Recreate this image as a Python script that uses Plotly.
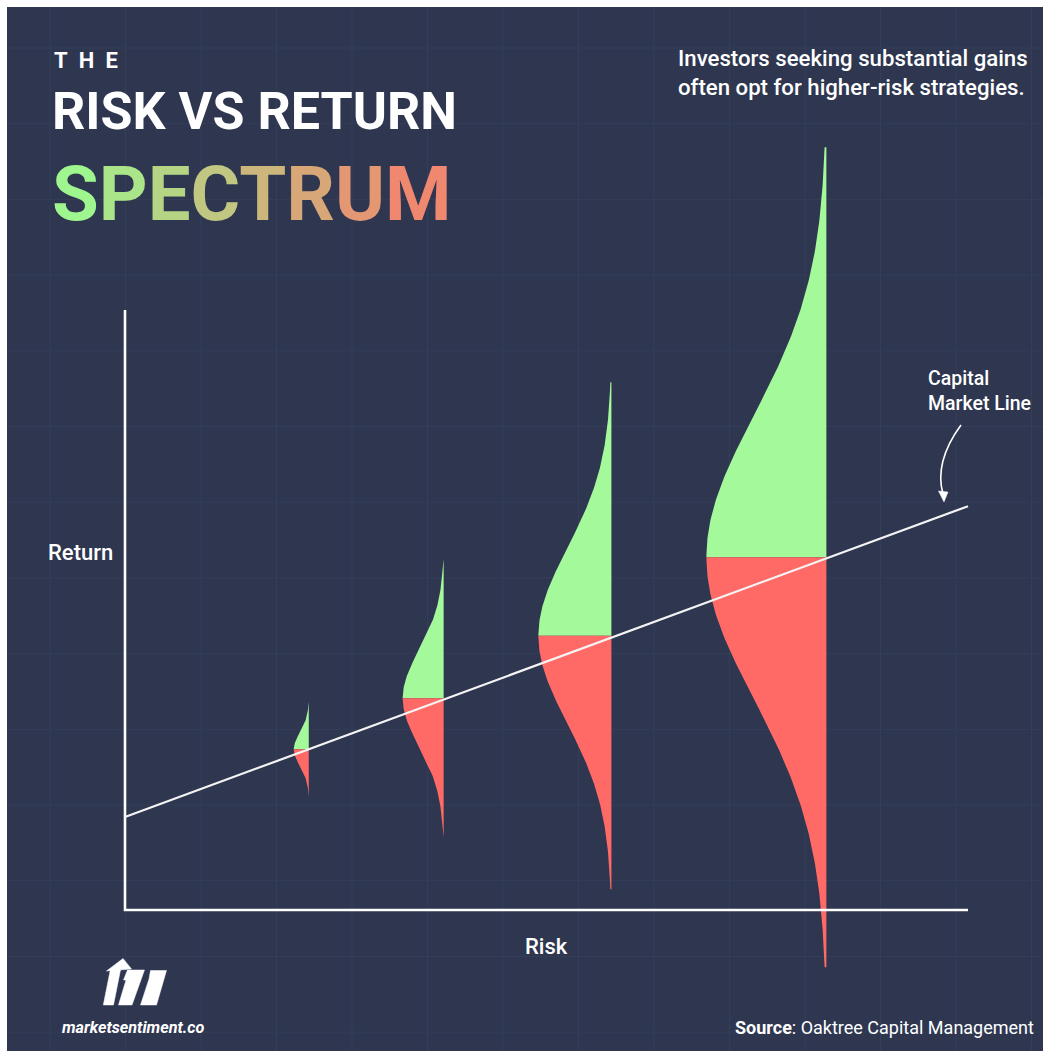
import numpy as np
import plotly.graph_objects as go

W, H = 1043, 1051

# ---------------- data (risk on x, return on y, in drawn-axis units) ----------------
risk_levels = [2.18, 3.78, 5.77, 8.32]        # position of each strategy on the risk axis
mean_returns = [2.68, 3.53, 4.57, 5.88]       # expected return (split green / red)
return_spread = [0.273, 0.80, 1.457, 2.356]   # spread of the return distribution
curve_widths = [0.178, 0.486, 0.866, 1.423]   # peak width of each half-distribution
cml_risk = [0, 10]                            # capital market line end points
cml_return = [1.55, 6.73]
axis_x_max = 10
axis_y_max = 10

title_small = "THE"
title_main = "RISK VS RETURN"
title_color_word = "SPECTRUM"
subtitle_lines = ["Investors seeking substantial gains", "often opt for higher-risk strategies."]
x_label = "Risk"
y_label = "Return"
cml_label = ["Capital", "Market Line"]
brand = "marketsentiment.co"
source_text = "Oaktree Capital Management"

# ---------------- styling ----------------
GREEN = "#A4F99B"
RED = "#FF6A66"
BG = "#2E3650"
GRID = "#353E58"
WHITE = "#FFFFFF"
FONT = "Roboto, Inter, sans-serif"

X0_PX, Y0_PX = 125, 910
XU, YU = 84.3, 60.0
x_range = [-X0_PX / XU, (W - X0_PX) / XU]
y_range = [-(H - Y0_PX) / YU, Y0_PX / YU]


def px(x):
    return x / W


def py(y):
    return 1 - y / H


fig = go.Figure()

# half-distributions
TAIL = 2.9
z = np.linspace(0, TAIL, 160)
for r, m, s, w in zip(risk_levels, mean_returns, return_spread, curve_widths):
    dens = np.exp(-0.5 * z ** 2)
    xs = r - w * dens
    gy = m + z * s
    fig.add_trace(go.Scatter(
        x=np.concatenate([[r], xs, [r]]), y=np.concatenate([[m], gy, [gy[-1]]]),
        mode="lines", fill="toself", fillcolor=GREEN, line=dict(width=0, color=GREEN),
        hoverinfo="skip", showlegend=False))
    ry = m - z * s
    fig.add_trace(go.Scatter(
        x=np.concatenate([[r], xs, [r]]), y=np.concatenate([[m], ry, [ry[-1]]]),
        mode="lines", fill="toself", fillcolor=RED, line=dict(width=0, color=RED),
        hoverinfo="skip", showlegend=False))

# axes
fig.add_trace(go.Scatter(x=[0, 0, axis_x_max], y=[axis_y_max, 0, 0], mode="lines",
                         line=dict(color=WHITE, width=2.6), hoverinfo="skip", showlegend=False))
# capital market line
fig.add_trace(go.Scatter(x=cml_risk, y=cml_return, mode="lines",
                         line=dict(color="#F4F4F4", width=2.2), hoverinfo="skip", showlegend=False))

shapes = []
shapes.append(dict(type="rect", xref="paper", yref="paper", x0=px(7), x1=px(W), y0=py(H), y1=py(7),
                   fillcolor=BG, line=dict(width=0), layer="below"))
gx = 50.0
while gx < W:
    shapes.append(dict(type="line", xref="paper", yref="paper", x0=px(gx), x1=px(gx), y0=py(H), y1=py(7),
                       line=dict(color=GRID, width=1), layer="below"))
    gx += 75.5
gy_ = 48.0
while gy_ < H:
    shapes.append(dict(type="line", xref="paper", yref="paper", x0=px(7), x1=px(W), y0=py(gy_), y1=py(gy_),
                       line=dict(color=GRID, width=1), layer="below"))
    gy_ += 75.7


def path(points, close=True):
    s = "M " + " L ".join(f"{px(a):.5f},{py(b):.5f}" for a, b in points)
    return s + (" Z" if close else "")


# curved arrow for CML label
shapes.append(dict(type="path", xref="paper", yref="paper",
                   path=f"M {px(961):.5f},{py(425):.5f} Q {px(934):.5f},{py(462):.5f} {px(943):.5f},{py(494):.5f}",
                   line=dict(color=WHITE, width=1.6)))
shapes.append(dict(type="path", xref="paper", yref="paper",
                   path=path([(938.5, 491), (948, 492), (944, 502)]),
                   fillcolor=WHITE, line=dict(color=WHITE, width=0.5)))

# logo
logo_parts = [
    [(103.3, 1005), (113.5, 1005), (120.5, 970), (110.3, 970)],
    [(106.5, 971), (123.0, 958.5), (131.5, 969)],
    [(127.5, 970), (144.5, 970), (132, 1005), (118.5, 1005), (126.0, 980), (123.5, 980)],
    [(150.5, 970.5), (166.5, 970.5), (156.5, 1005), (140.5, 1005), (149, 979)],
]
for pts in logo_parts:
    shapes.append(dict(type="path", xref="paper", yref="paper", path=path(pts),
                       fillcolor=WHITE, line=dict(color=WHITE, width=0.5)))

# gradient title word
c0 = np.array([0x9F, 0xF5, 0x8E])
c1 = np.array([0xEF, 0x88, 0x6F])
n = len(title_color_word)
spans = []
for i, ch in enumerate(title_color_word):
    c = (c0 + (c1 - c0) * i / (n - 1)).astype(int)
    spans.append(f"<span style='color:rgb({c[0]},{c[1]},{c[2]})'>{ch}</span>")
spectrum_html = "".join(spans)

ann = []


def text(x, y, t, size, color=WHITE, xanchor="left", yanchor="middle", family=FONT, align="left", **kw):
    ann.append(dict(x=px(x), y=py(y), xref="paper", yref="paper", text=t, showarrow=False,
                    xanchor=xanchor, yanchor=yanchor, align=align,
                    font=dict(size=size, color=color, family=family, **kw)))


text(52, 60, "\u2002".join(title_small), 22, weight="bold")
text(50, 111, title_main, 52, weight="bold")
text(50, 194, spectrum_html, 76, weight="bold")
text(1030, 72, "<br>".join(subtitle_lines), 22.2, xanchor="right", align="left", weight=500)
text(46, 552, y_label, 22, weight=500)
text(546, 946, x_label, 22, xanchor="center", weight=500)
text(926, 391, "<br>".join(cml_label), 19.5, weight=500)
text(60, 1027, f"<i>{brand}</i>", 16.2, weight="bold")
text(1036, 1027, f"<b>Source</b>: {source_text}", 18, xanchor="right")

fig.update_layout(
    width=W, height=H, margin=dict(l=0, r=0, t=0, b=0),
    paper_bgcolor="white", plot_bgcolor="rgba(0,0,0,0)",
    xaxis=dict(range=x_range, visible=False, fixedrange=True, domain=[0, 1]),
    yaxis=dict(range=y_range, visible=False, fixedrange=True, domain=[0, 1]),
    shapes=shapes, annotations=ann, hovermode=False, showlegend=False,
)

fig.write_html("out.html", config={"displayModeBar": False})
